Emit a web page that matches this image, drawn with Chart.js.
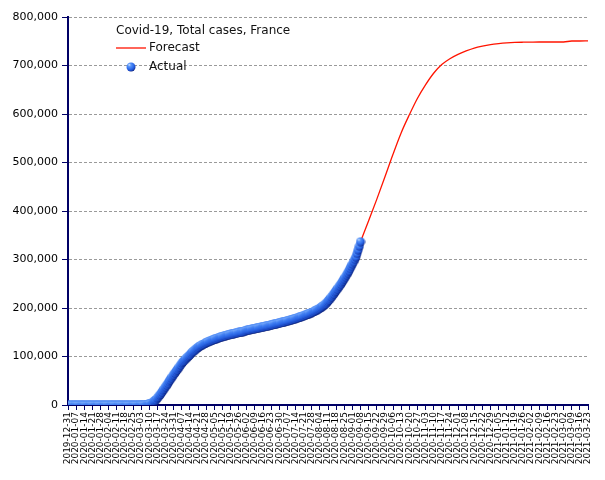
<!DOCTYPE html>
<html>
<head>
<meta charset="utf-8">
<script src="https://cdn.jsdelivr.net/npm/chart.js@4.4.0/dist/chart.umd.min.js"></script>
<style>
  html, body { margin:0; padding:0; background:#fff; }
  canvas { display:block; }
</style>
</head>
<body>
<canvas id="chart" width="605" height="480"></canvas>
<script>
// weekly tick labels, first one is day 0
const tickLabels = [
  '2019-12-31','2020-01-07','2020-01-14','2020-01-21','2020-01-28','2020-02-04','2020-02-11','2020-02-18',
  '2020-02-25','2020-03-03','2020-03-10','2020-03-17','2020-03-24','2020-03-31','2020-04-07','2020-04-14',
  '2020-04-21','2020-04-28','2020-05-05','2020-05-12','2020-05-19','2020-05-26','2020-06-02','2020-06-09',
  '2020-06-16','2020-06-23','2020-06-30','2020-07-07','2020-07-14','2020-07-21','2020-07-28','2020-08-04',
  '2020-08-11','2020-08-18','2020-08-25','2020-09-01','2020-09-08','2020-09-15','2020-09-22','2020-09-29',
  '2020-10-06','2020-10-13','2020-10-20','2020-10-27','2020-11-03','2020-11-10','2020-11-17','2020-11-24',
  '2020-12-01','2020-12-08','2020-12-15','2020-12-22','2020-12-29','2021-01-05','2021-01-12','2021-01-19',
  '2021-01-26','2021-02-02','2021-02-09','2021-02-16','2021-02-23','2021-03-02','2021-03-09','2021-03-16',
  '2021-03-23'
];

// forecast, one value per tick (every 7 days)
const forecastWeekly = [
  0, 0, 0, 5, 6, 6, 11, 12, 12, 200,
  2300, 14500, 37600, 62500, 86300, 103600, 118700, 128300, 135300, 141100,
  145700, 149500, 154100, 157600, 161100, 164900, 169000, 173400, 178200, 183900,
  190700, 199700, 214000, 235800, 260400, 290700, 336500, 380000, 424000, 470000,
  517000, 561000, 598000, 632000, 660000, 684000, 702000, 714000, 723000, 730000,
  736000, 740000, 743000, 745000, 746500, 747500, 748000, 748300, 748500, 748500,
  748500, 748500, 750500, 750500, 750700
];

// actual cumulative cases, one value per day from 2019-12-31
const actualDaily = [
  0,0,0,0,0,0,0,0,0,0,0,0,0,0,0,0,0,0,0,0,0,0,0,0,0,
  3,3,3,4,5,5,6,
  6,6,6,6,6,6,6,11,11,11,11,11,11,11,11,12,12,12,12,12,12,12,12,12,12,
  14,18,38,57,
  100,130,191,212,285,423,613,949,
  1800,2300,2900,3700,5400,7700,9100,11000,14500,17500,
  20500,23500,27000,30500,34000,37600,41000,44600,48500,52000,
  55500,59000,62500,66000,69300,72400,75600,79100,82600,86300,
  89100,91500,94000,96500,98800,101200,103600,106200,108800,110700,
  112600,114700,116900,118700,120300,122000,123500,124600,125800,127000,
  128300,129600,130600,131600,132600,133500,134400,135300,136200,137100,
  138000,138900,139700,140400,141100,141800,142500,143200,143900,144500,
  145100,145700,146200,146800,147300,147900,148400,148900,149500,150000,
  150500,151000,151500,152000,153600,154100,154600,155100,155600,156100,
  156600,157100,157600,158100,158600,159100,159600,160100,160600,161100,
  161600,162200,162700,163200,163800,164300,164900,165400,166000,166600,
  167200,167800,168400,169000,169600,170200,170800,171400,172100,172700,
  173400,174000,174700,175400,176100,176800,177500,178200,179000,179800,
  180600,181400,182200,183000,183900,184800,185700,186600,187600,188600,
  189600,190700,191800,193000,194200,195500,196800,198200,199700,201300,
  203000,204800,206800,209000,211400,214000,216800,219700,222800,226000,
  229200,232500,235800,239100,242400,245800,249300,252900,256600,260400,
  264400,268500,272700,277000,281500,286000,290700,295500,300400,305500,
  312600,319900,327500,336500
];

const chartTitle = 'Covid-19, Total cases, France';
const seriesNames = ['Forecast', 'Actual'];
const yTicks = [0, 100000, 200000, 300000, 400000, 500000, 600000, 700000, 800000];

const NAVY = '#000066';
const RED = '#ff1400';
const FONT = 'DejaVu Sans';

// little shaded blue ball used as marker: bright on the left, dark rim at the bottom
function makeBall(r){
  const s = Math.ceil(r*2)+1;
  const c = document.createElement('canvas');
  c.width = s; c.height = s;
  const g = c.getContext('2d');
  const cx = s/2, cy = s/2;
  const grad = g.createRadialGradient(cx-r*0.4, cy-r*0.5, 0, cx-r*0.2, cy-r*0.3, r*1.4);
  grad.addColorStop(0, '#d4e8ff');
  grad.addColorStop(0.25, '#5b96f8');
  grad.addColorStop(0.6, '#2f6eec');
  grad.addColorStop(0.82, '#1d4cc8');
  grad.addColorStop(1, '#07186a');
  g.fillStyle = grad;
  g.beginPath(); g.arc(cx, cy, r, 0, Math.PI*2); g.fill();
  return c;
}
const ball = makeBall(4.5);

const insetLegend = {
  id: 'insetLegend',
  afterDraw(chart){
    const ctx = chart.ctx;
    const x0 = chart.chartArea.left + 48;
    ctx.save();
    ctx.font = '12px "' + FONT + '"';
    ctx.fillStyle = '#111';
    ctx.textBaseline = 'alphabetic';
    ctx.fillText(chartTitle, x0, 34);
    ctx.strokeStyle = RED;
    ctx.lineWidth = 1.3;
    ctx.beginPath(); ctx.moveTo(x0, 48); ctx.lineTo(x0+30, 48); ctx.stroke();
    ctx.textBaseline = 'middle';
    ctx.fillText(seriesNames[0], x0+33, 48);
    ctx.drawImage(ball, x0+15-ball.width/2, 67-ball.height/2);
    ctx.fillText(seriesNames[1], x0+33, 67);
    ctx.restore();
  }
};

new Chart(document.getElementById('chart'), {
  type: 'line',
  data: {
    datasets: [
      {
        label: seriesNames[1],
        data: actualDaily.map((v,i)=>({x:i, y:v})),
        showLine: false,
        pointStyle: ball,
        pointRadius: 4.5,
        order: 1
      },
      {
        label: seriesNames[0],
        data: forecastWeekly.map((v,i)=>({x:i*7, y:v})),
        borderColor: RED,
        borderWidth: 1.3,
        pointRadius: 0,
        cubicInterpolationMode: 'monotone',
        fill: false,
        order: 2
      }
    ]
  },
  options: {
    responsive: false,
    animation: false,
    layout: { padding: { top:17, right:17, left:0, bottom:0 } },
    plugins: { legend:{display:false}, tooltip:{enabled:false} },
    scales: {
      x: {
        type: 'linear',
        min: 0,
        max: (tickLabels.length-1)*7,
        afterFit(s){ s.height = 75; },
        afterBuildTicks(s){ s.ticks = tickLabels.map((_,i)=>({value:i*7})); },
        ticks: {
          autoSkip: false,
          maxRotation: 90,
          minRotation: 90,
          padding: 2,
          color: '#000',
          font: { family: FONT, size: 9 },
          callback: (v)=> tickLabels[Math.round(v/7)]
        },
        grid: { drawOnChartArea:false, tickLength:5, color:NAVY, lineWidth:1 },
        border: { color:NAVY, width:2 }
      },
      y: {
        min: 0,
        max: 800000,
        afterFit(s){ s.width = 68; },
        afterBuildTicks(s){ s.ticks = yTicks.map(v=>({value:v})); },
        ticks: {
          padding: 4,
          color: '#000',
          font: { family: FONT, size: 11 },
          callback: (v)=> v.toLocaleString('en-US')
        },
        grid: {
          color: (c)=> c.tick && c.tick.value===0 ? 'rgba(0,0,0,0)' : '#9a9a9a',
          lineWidth: 1,
          tickColor: NAVY,
          tickLength: 6,
          tickBorderDash: []
        },
        border: { color:NAVY, width:2, dash:[3,2] }
      }
    }
  },
  plugins: [insetLegend]
});
</script>
</body>
</html>
